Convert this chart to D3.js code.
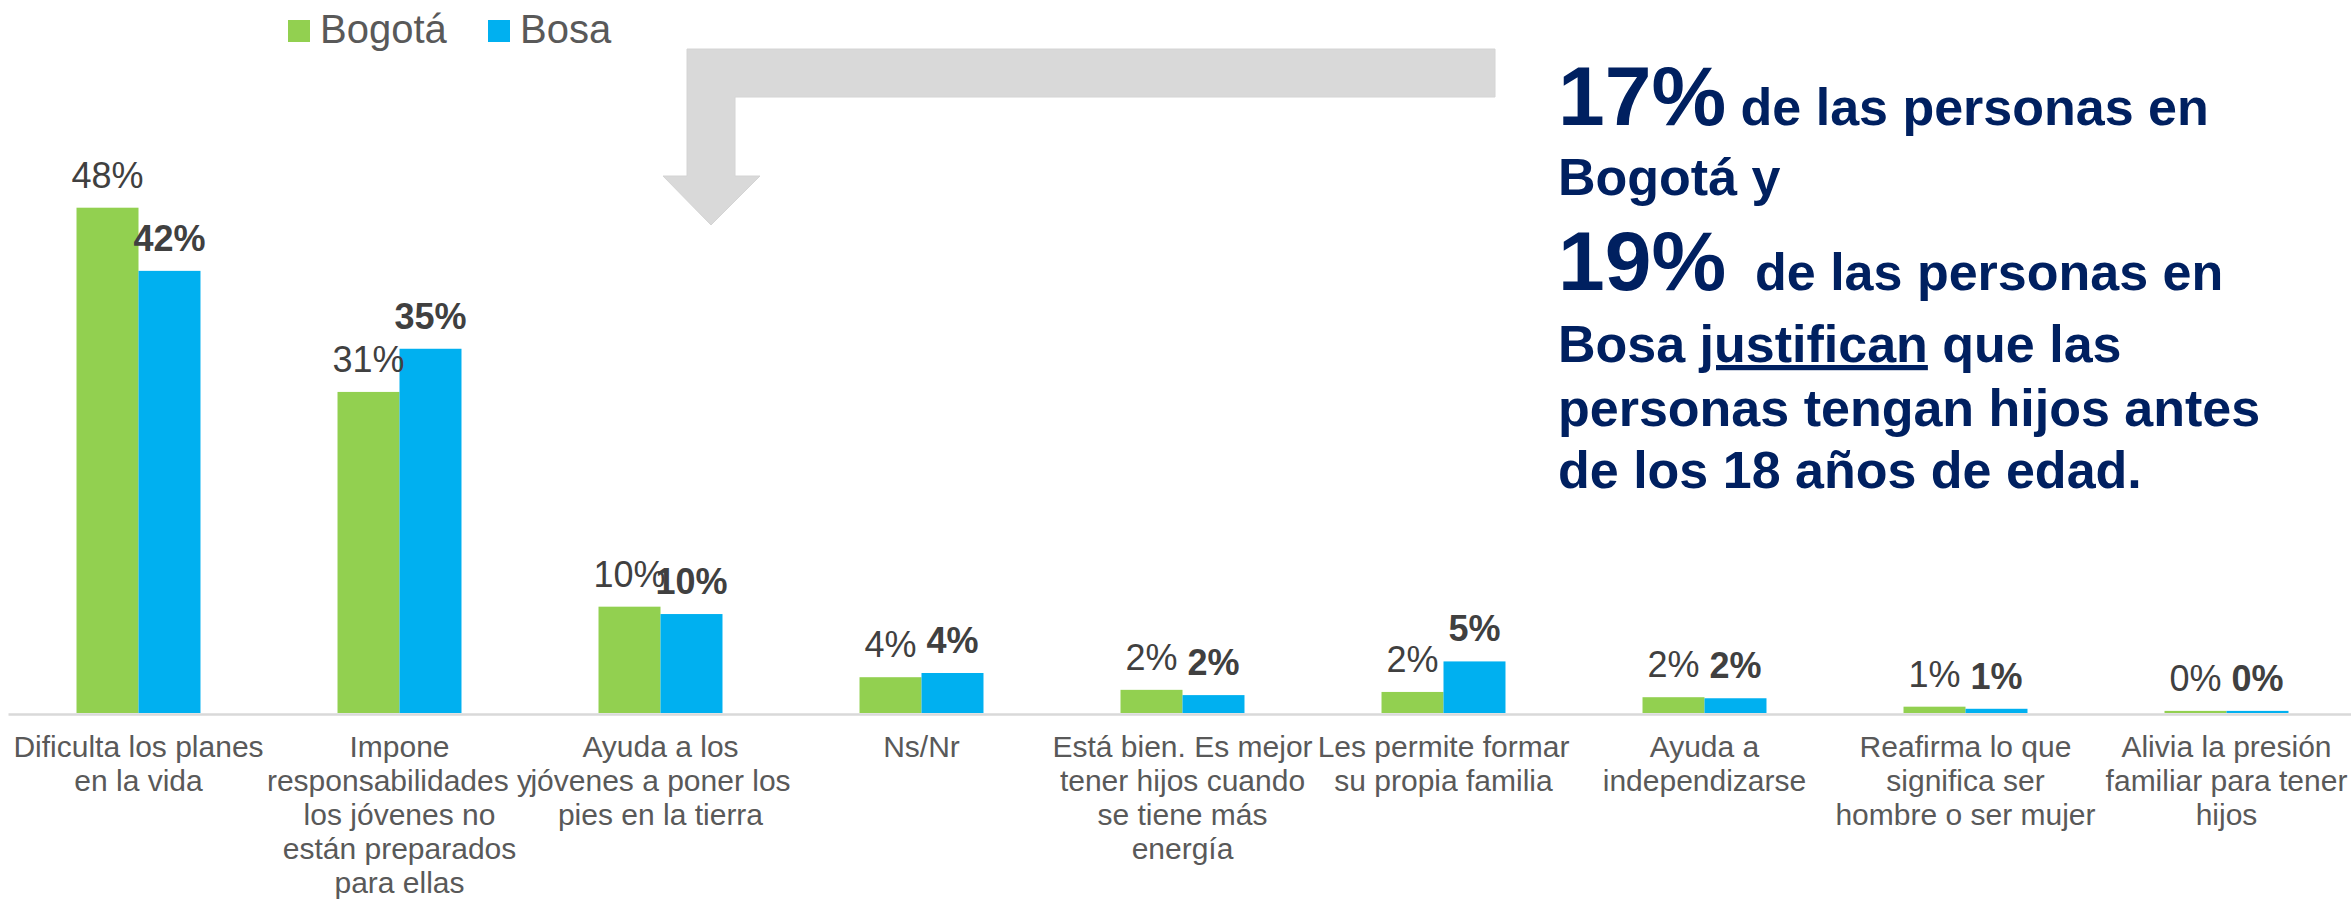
<!DOCTYPE html>
<html>
<head>
<meta charset="utf-8">
<script src="https://cdn.jsdelivr.net/npm/d3@7"></script>
<style>
  body { margin: 0; background: #fff; }
  svg { display: block; font-family: "Liberation Sans", Arial, sans-serif; }
</style>
</head>
<body>
<div id="chart"></div>
<script>
// categories (line breaks as in the original slide)
const categories = [
    "Dificulta los planes\nen la vida",
    "Impone\nresponsabilidades y\nlos jóvenes no\nestán preparados\npara ellas",
    "Ayuda a los\njóvenes a poner los\npies en la tierra",
    "Ns/Nr",
    "Está bien. Es mejor\ntener hijos cuando\nse tiene más\nenergía",
    "Les permite formar\nsu propia familia",
    "Ayuda a\nindependizarse",
    "Reafirma lo que\nsignifica ser\nhombre o ser mujer",
    "Alivia la presión\nfamiliar para tener\nhijos"
];

const series = ["Bogotá", "Bosa"];
const colors = ["#92d050", "#00b0f0"];

// values (%)
const bogota = [48.0, 30.5, 10.1, 3.4, 2.2, 2.0, 1.5, 0.6, 0.2];
const bosa = [42.0, 34.6, 9.4, 3.8, 1.7, 4.9, 1.4, 0.4, 0.2];

// labels as printed on the chart
const bogotaLabels = ["48%", "31%", "10%", "4%", "2%", "2%", "2%", "1%", "0%"];
const bosaLabels = ["42%", "35%", "10%", "4%", "2%", "5%", "2%", "1%", "0%"];

const calloutLines = [
    [{ t: "17%", big: true }, { t: " de las personas en" }],
    [{ t: "Bogotá y" }],
    [{ t: "19%", big: true }, { t: "  de las personas en" }],
    [{ t: "Bosa " }, { t: "justifican", u: true }, { t: " que las" }],
    [{ t: "personas tengan hijos antes" }],
    [{ t: "de los 18 años de edad." }]
];

const W = 2351, H = 899;

const svg = d3.select("#chart").append("svg")
    .attr("width", W)
    .attr("height", H);

const x = d3.scaleBand()
    .domain(categories)
    .range([8, 2357])
    .paddingInner(0.525)
    .paddingOuter(0.2625);

const xs = d3.scaleBand()
    .domain(series)
    .range([0, x.bandwidth()]);

const y = d3.scaleLinear()
    .domain([0, 48])
    .range([713, 207.7]);

const rows = categories.map((c, i) => ({
    cat: c,
    vals: [
        { s: series[0], v: bogota[i], label: bogotaLabels[i], bold: false },
        { s: series[1], v: bosa[i], label: bosaLabels[i], bold: true }
    ]
}));

// arrow decoration
svg.append("path")
    .attr("d", "M1495,49 L687,49 L687,176 L663,176 L711,225 L760,176 L735,176 L735,97 L1495,97 Z")
    .attr("fill", "#d9d9d9")
    .attr("stroke", "#d4d4d4")
    .attr("stroke-width", 1);

// axis line
svg.append("g")
    .attr("transform", `translate(0,${y(0) + 1})`)
    .call(d3.axisBottom(x).tickSize(0).tickFormat(""))
    .call(g => g.select(".domain").attr("stroke", "#d9d9d9").attr("stroke-width", 2.5));

const groups = svg.selectAll(".grp")
    .data(rows)
    .enter().append("g")
    .attr("class", "grp")
    .attr("transform", d => `translate(${x(d.cat)},0)`);

groups.selectAll("rect")
    .data(d => d.vals)
    .enter().append("rect")
    .attr("x", d => xs(d.s))
    .attr("y", d => y(d.v))
    .attr("width", xs.bandwidth())
    .attr("height", d => y(0) - y(d.v))
    .attr("fill", (d, i) => colors[i]);

groups.selectAll(".val")
    .data(d => d.vals)
    .enter().append("text")
    .attr("class", "val")
    .attr("x", d => xs(d.s) + xs.bandwidth() / 2)
    .attr("y", d => y(d.v) - 20)
    .attr("text-anchor", "middle")
    .attr("fill", "#404040")
    .style("font-size", "36px")
    .style("font-weight", d => d.bold ? "bold" : "normal")
    .text(d => d.label);

// category labels
const catText = svg.selectAll(".cat")
    .data(categories)
    .enter().append("text")
    .attr("class", "cat")
    .attr("text-anchor", "middle")
    .attr("fill", "#595959")
    .style("font-size", "30px");

catText.selectAll("tspan")
    .data(d => d.split("\n").map(line => ({ line, cat: d })))
    .enter().append("tspan")
    .attr("x", d => x(d.cat) + x.bandwidth() / 2)
    .attr("y", (d, i) => 757 + i * 34)
    .text(d => d.line);

// legend
const legend = svg.append("g");
const legendX = [288, 488];
series.forEach((s, i) => {
    legend.append("rect")
        .attr("x", legendX[i])
        .attr("y", 20)
        .attr("width", 22)
        .attr("height", 22)
        .attr("fill", colors[i]);
    legend.append("text")
        .attr("x", legendX[i] + 32)
        .attr("y", 43)
        .attr("fill", "#595959")
        .style("font-size", "40px")
        .text(s);
});

// callout text
const baselines = [125, 195, 290, 362, 426, 488];
const callout = svg.append("g").attr("fill", "#002060").style("font-weight", "bold");
calloutLines.forEach((parts, i) => {
    const t = callout.append("text")
        .attr("x", 1558)
        .attr("y", baselines[i])
        .style("font-size", "52px")
        .attr("xml:space", "preserve");
    parts.forEach(p => {
        t.append("tspan")
            .style("font-size", p.big ? "84px" : "52px")
            .style("text-decoration", p.u ? "underline" : null)
            .text(p.t);
    });
});
</script>
</body>
</html>
